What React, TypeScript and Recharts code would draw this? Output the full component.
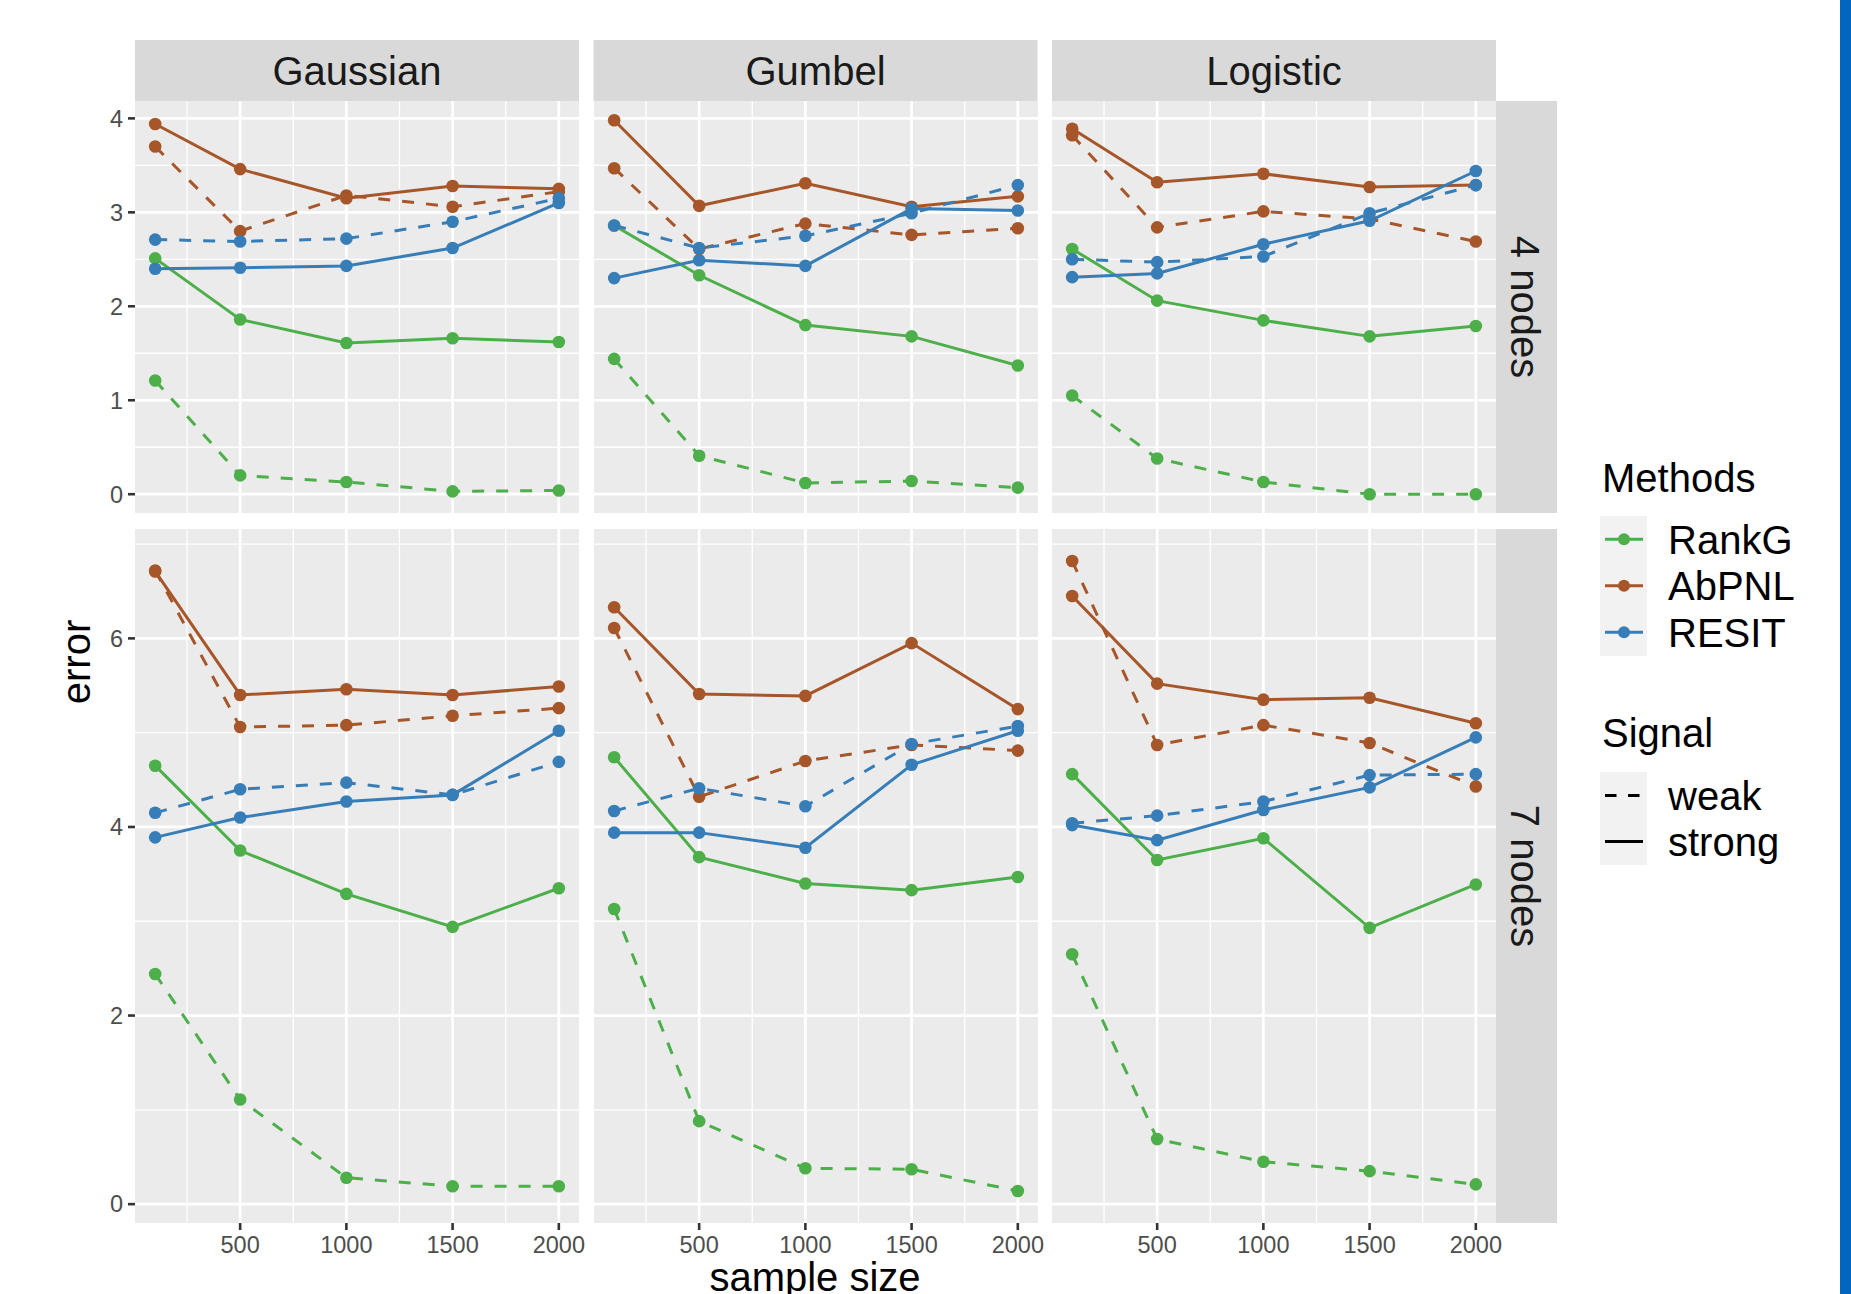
import React from "react";
import { LineChart, Line, XAxis, YAxis, ReferenceLine, ReferenceArea } from "recharts";

// ---------- data ----------
const sampleSizes = [100, 500, 1000, 1500, 2000];
const distributions = ["Gaussian", "Gumbel", "Logistic"];
const nodeLabels = ["4 nodes", "7 nodes"];
const methods = ["RankG", "AbPNL", "RESIT"];
const signals = ["weak", "strong"];

// Gaussian, 4 nodes
const gau4_RankG_strong = [2.51, 1.86, 1.61, 1.66, 1.62];
const gau4_RankG_weak = [1.21, 0.2, 0.13, 0.03, 0.04];
const gau4_AbPNL_strong = [3.94, 3.46, 3.15, 3.28, 3.25];
const gau4_AbPNL_weak = [3.7, 2.8, 3.18, 3.06, 3.22];
const gau4_RESIT_strong = [2.4, 2.41, 2.43, 2.62, 3.1];
const gau4_RESIT_weak = [2.71, 2.69, 2.72, 2.9, 3.15];

// Gumbel, 4 nodes
const gum4_RankG_strong = [2.86, 2.33, 1.8, 1.68, 1.37];
const gum4_RankG_weak = [1.44, 0.41, 0.12, 0.14, 0.07];
const gum4_AbPNL_strong = [3.98, 3.07, 3.31, 3.06, 3.17];
const gum4_AbPNL_weak = [3.47, 2.61, 2.88, 2.76, 2.83];
const gum4_RESIT_strong = [2.3, 2.49, 2.43, 3.04, 3.02];
const gum4_RESIT_weak = [2.86, 2.62, 2.75, 2.99, 3.29];

// Logistic, 4 nodes
const log4_RankG_strong = [2.61, 2.06, 1.85, 1.68, 1.79];
const log4_RankG_weak = [1.05, 0.38, 0.13, 0.0, 0.0];
const log4_AbPNL_strong = [3.89, 3.32, 3.41, 3.27, 3.29];
const log4_AbPNL_weak = [3.82, 2.84, 3.01, 2.93, 2.69];
const log4_RESIT_strong = [2.31, 2.35, 2.66, 2.91, 3.44];
const log4_RESIT_weak = [2.5, 2.47, 2.53, 2.99, 3.29];

// Gaussian, 7 nodes
const gau7_RankG_strong = [4.65, 3.75, 3.29, 2.94, 3.35];
const gau7_RankG_weak = [2.44, 1.11, 0.28, 0.19, 0.19];
const gau7_AbPNL_strong = [6.71, 5.4, 5.46, 5.4, 5.49];
const gau7_AbPNL_weak = [6.72, 5.06, 5.08, 5.18, 5.26];
const gau7_RESIT_strong = [3.89, 4.1, 4.27, 4.34, 5.02];
const gau7_RESIT_weak = [4.15, 4.4, 4.47, 4.34, 4.69];

// Gumbel, 7 nodes
const gum7_RankG_strong = [4.74, 3.68, 3.4, 3.33, 3.47];
const gum7_RankG_weak = [3.13, 0.88, 0.38, 0.37, 0.14];
const gum7_AbPNL_strong = [6.33, 5.41, 5.39, 5.95, 5.25];
const gum7_AbPNL_weak = [6.11, 4.32, 4.7, 4.87, 4.81];
const gum7_RESIT_strong = [3.94, 3.94, 3.78, 4.66, 5.02];
const gum7_RESIT_weak = [4.17, 4.41, 4.22, 4.88, 5.07];

// Logistic, 7 nodes
const log7_RankG_strong = [4.56, 3.65, 3.88, 2.93, 3.39];
const log7_RankG_weak = [2.65, 0.69, 0.45, 0.35, 0.21];
const log7_AbPNL_strong = [6.45, 5.52, 5.35, 5.37, 5.1];
const log7_AbPNL_weak = [6.82, 4.87, 5.08, 4.89, 4.43];
const log7_RESIT_strong = [4.02, 3.86, 4.18, 4.42, 4.95];
const log7_RESIT_weak = [4.04, 4.12, 4.27, 4.55, 4.56];

// tick / grid values
const xTicks = [500, 1000, 1500, 2000];
const xMinor = [250, 750, 1250, 1750];
const yTicksTop = [0, 1, 2, 3, 4];
const yMinorTop = [0.5, 1.5, 2.5, 3.5];
const yTicksBottom = [0, 2, 4, 6];
const yMinorBottom = [1, 3, 5, 7];

// ---------- style ----------
const FONT = "'Liberation Sans', Arial, Helvetica, sans-serif";
const methodColors: Record<string, string> = { RankG: "#4DAF4A", AbPNL: "#A65628", RESIT: "#377EB8" };
const dashFor: Record<string, string | undefined> = { weak: "12 12", strong: undefined };

const xDomain: [number, number] = [5, 2095];
const rowDomains: [number, number][] = [[-0.2, 4.185], [-0.2, 7.16]];
const rowTicks = [yTicksTop, yTicksBottom];
const rowMinor = [yMinorTop, yMinorBottom];
const colLefts = [135, 593.5, 1052];
const panelW = 444;
const rowTops = [101, 529];
const rowHeights = [412, 694];

const panelValues: Record<string, number[]>[][] = [
  [
    { RankG_strong: gau4_RankG_strong, RankG_weak: gau4_RankG_weak, AbPNL_strong: gau4_AbPNL_strong, AbPNL_weak: gau4_AbPNL_weak, RESIT_strong: gau4_RESIT_strong, RESIT_weak: gau4_RESIT_weak },
    { RankG_strong: gum4_RankG_strong, RankG_weak: gum4_RankG_weak, AbPNL_strong: gum4_AbPNL_strong, AbPNL_weak: gum4_AbPNL_weak, RESIT_strong: gum4_RESIT_strong, RESIT_weak: gum4_RESIT_weak },
    { RankG_strong: log4_RankG_strong, RankG_weak: log4_RankG_weak, AbPNL_strong: log4_AbPNL_strong, AbPNL_weak: log4_AbPNL_weak, RESIT_strong: log4_RESIT_strong, RESIT_weak: log4_RESIT_weak },
  ],
  [
    { RankG_strong: gau7_RankG_strong, RankG_weak: gau7_RankG_weak, AbPNL_strong: gau7_AbPNL_strong, AbPNL_weak: gau7_AbPNL_weak, RESIT_strong: gau7_RESIT_strong, RESIT_weak: gau7_RESIT_weak },
    { RankG_strong: gum7_RankG_strong, RankG_weak: gum7_RankG_weak, AbPNL_strong: gum7_AbPNL_strong, AbPNL_weak: gum7_AbPNL_weak, RESIT_strong: gum7_RESIT_strong, RESIT_weak: gum7_RESIT_weak },
    { RankG_strong: log7_RankG_strong, RankG_weak: log7_RankG_weak, AbPNL_strong: log7_AbPNL_strong, AbPNL_weak: log7_AbPNL_weak, RESIT_strong: log7_RESIT_strong, RESIT_weak: log7_RESIT_weak },
  ],
];

function Panel({ row, col }: { row: number; col: number }) {
  const values = panelValues[row][col];
  const yAxisW = col === 0 ? 50 : 0;
  const xAxisH = row === 1 ? 45 : 0;
  const rightPad = row === 1 ? 24 : 0;
  const w = panelW + yAxisW + rightPad;
  const h = rowHeights[row] + xAxisH;
  const dom = rowDomains[row];
  const data = sampleSizes.map((n, i) => {
    const d: Record<string, number> = { n };
    methods.forEach((m) => signals.forEach((s) => { d[`${m}_${s}`] = values[`${m}_${s}`][i]; }));
    return d;
  });
  return (
    <div style={{ position: "absolute", left: colLefts[col] - yAxisW, top: rowTops[row], width: w, height: h }}>
      <LineChart width={w} height={h} data={data} margin={{ top: 0, right: rightPad, bottom: 0, left: 0 }} style={{ overflow: "visible" }}>
        <XAxis
          type="number"
          dataKey="n"
          domain={xDomain}
          allowDataOverflow
          ticks={xTicks}
          hide={row !== 1}
          height={45}
          axisLine={false}
          tickSize={7}
          tickMargin={6}
          tickLine={{ stroke: "#333333", strokeWidth: 2.6 }}
          tick={{ fill: "#4D4D4D", fontSize: 23.5, fontFamily: FONT }}
          interval={0}
        />
        <YAxis
          type="number"
          domain={dom}
          allowDataOverflow
          ticks={rowTicks[row]}
          hide={col !== 0}
          width={50}
          axisLine={false}
          tickSize={7}
          tickMargin={5}
          tickLine={{ stroke: "#333333", strokeWidth: 2.6 }}
          tick={{ fill: "#4D4D4D", fontSize: 23.5, fontFamily: FONT }}
          interval={0}
        />
        <ReferenceArea x1={xDomain[0]} x2={xDomain[1]} y1={dom[0]} y2={dom[1]} fill="#EBEBEB" fillOpacity={1} stroke="none" />
        {rowMinor[row].map((v) => (
          <ReferenceLine key={`ym${v}`} y={v} stroke="#FFFFFF" strokeWidth={1.3} />
        ))}
        {xMinor.map((v) => (
          <ReferenceLine key={`xm${v}`} x={v} stroke="#FFFFFF" strokeWidth={1.3} />
        ))}
        {rowTicks[row].map((v) => (
          <ReferenceLine key={`yM${v}`} y={v} stroke="#FFFFFF" strokeWidth={2.7} />
        ))}
        {xTicks.map((v) => (
          <ReferenceLine key={`xM${v}`} x={v} stroke="#FFFFFF" strokeWidth={2.7} />
        ))}
        {methods.map((m) =>
          signals.map((s) => (
            <Line
              key={`${m}_${s}`}
              dataKey={`${m}_${s}`}
              type="linear"
              stroke={methodColors[m]}
              strokeWidth={3}
              strokeDasharray={dashFor[s]}
              dot={{ r: 6.3, fill: methodColors[m], stroke: "none", strokeWidth: 0 }}
              activeDot={false}
              isAnimationActive={false}
            />
          ))
        )}
      </LineChart>
    </div>
  );
}

function Overlay() {
  const stripFill = "#D9D9D9";
  const rightStripX = colLefts[2] + panelW;
  return (
    <svg width={1851} height={1294} style={{ position: "absolute", left: 0, top: 0 }} fontFamily={FONT}>
      {distributions.map((d, i) => (
        <g key={d}>
          <rect x={colLefts[i]} y={40} width={panelW} height={61} fill={stripFill} />
          <text x={colLefts[i] + panelW / 2} y={85} textAnchor="middle" fontSize={40} fill="#1A1A1A">{d}</text>
        </g>
      ))}
      {nodeLabels.map((lab, r) => (
        <g key={lab}>
          <rect x={rightStripX} y={rowTops[r]} width={61} height={rowHeights[r]} fill={stripFill} />
          <text
            x={rightStripX + 29}
            y={rowTops[r] + rowHeights[r] / 2}
            textAnchor="middle"
            dominantBaseline="central"
            fontSize={40}
            fill="#1A1A1A"
            transform={`rotate(90 ${rightStripX + 29} ${rowTops[r] + rowHeights[r] / 2})`}
          >
            {lab}
          </text>
        </g>
      ))}
      <text x={90} y={662} textAnchor="middle" fontSize={40} fill="#000" transform="rotate(-90 90 662)">error</text>
      <text x={815} y={1291} textAnchor="middle" fontSize={40} fill="#000">sample size</text>

      {/* legend: Methods */}
      <text x={1602} y={492} fontSize={40} fill="#000">Methods</text>
      <rect x={1600} y={516} width={47} height={140} fill="#F2F2F2" />
      {methods.map((m, i) => {
        const cy = 539.3 + i * 46.5;
        return (
          <g key={m}>
            <line x1={1605} x2={1643} y1={cy} y2={cy} stroke={methodColors[m]} strokeWidth={3} />
            <circle cx={1624} cy={cy} r={6} fill={methodColors[m]} />
            <text x={1668} y={cy + 14.5} fontSize={40} fill="#000">{m}</text>
          </g>
        );
      })}
      {/* legend: Signal */}
      <text x={1602} y={747} fontSize={40} fill="#000">Signal</text>
      <rect x={1600} y={772} width={47} height={93} fill="#F2F2F2" />
      {signals.map((s, i) => {
        const cy = 795.5 + i * 46;
        return (
          <g key={s}>
            <line x1={1605} x2={1643} y1={cy} y2={cy} stroke="#000" strokeWidth={3} strokeDasharray={s === "weak" ? "11.5 11.5" : undefined} />
            <text x={1668} y={cy + 14.5} fontSize={40} fill="#000">{s}</text>
          </g>
        );
      })}
      <rect x={1840} y={0} width={11} height={1294} fill="#0066C0" />
    </svg>
  );
}

export default function App() {
  return (
    <div style={{ position: "absolute", left: 0, top: 0, width: 1851, height: 1294, background: "#FFFFFF", overflow: "hidden" }}>
      <Overlay />
      {[0, 1].map((r) => [0, 1, 2].map((c) => <Panel key={`${r}-${c}`} row={r} col={c} />))}
    </div>
  );
}
